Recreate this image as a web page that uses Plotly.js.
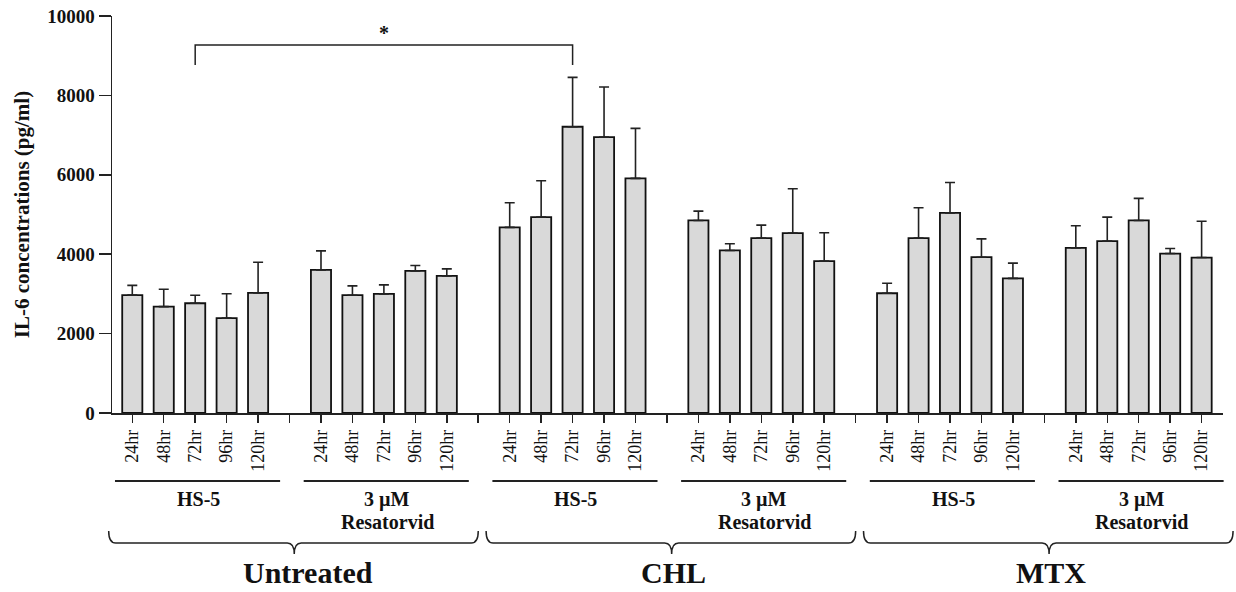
<!DOCTYPE html>
<html>
<head>
<meta charset="utf-8">
<script src="https://cdn.plot.ly/plotly-3.0.1.min.js"></script>
<style>html,body{margin:0;padding:0;background:#fff;}#chart{width:1236px;height:592px;}</style>
</head>
<body>
<div id="chart"></div>
<script>
// ---- data ----
const timePoints = ['24hr', '48hr', '72hr', '96hr', '120hr'];
const treatments = ['Untreated', 'CHL', 'MTX'];
const cellGroups = [['HS-5'], ['3 µM', 'Resatorvid']];

const untreatedHS5 = [2970, 2680, 2765, 2390, 3025];
const untreatedHS5Err = [245, 436, 200, 613, 774];
const untreatedRes = [3605, 2967, 3000, 3580, 3455];
const untreatedResErr = [479, 235, 227, 135, 176];
const chlHS5 = [4675, 4935, 7210, 6950, 5910];
const chlHS5Err = [620, 915, 1245, 1260, 1260];
const chlRes = [4850, 4095, 4405, 4530, 3825];
const chlResErr = [235, 168, 328, 1117, 714];
const mtxHS5 = [3017, 4405, 5042, 3925, 3390];
const mtxHS5Err = [253, 764, 765, 461, 386];
const mtxRes = [4160, 4330, 4850, 4017, 3915];
const mtxResErr = [555, 605, 555, 126, 916];

const yTicks = [0, 2000, 4000, 6000, 8000, 10000];
const yTickLabels = ['0', '2000', '4000', '6000', '8000', '10000'];
const sigLabel = '*';

// ---- build ----
const series = [untreatedHS5, untreatedRes, chlHS5, chlRes, mtxHS5, mtxRes];
const seriesErr = [untreatedHS5Err, untreatedResErr, chlHS5Err, chlResErr, mtxHS5Err, mtxResErr];
const slotsPerGroup = timePoints.length + 1;

const xs = [], ys = [], es = [], em = [];
series.forEach((vals, g) => {
  vals.forEach((v, t) => {
    xs.push(g * slotsPerGroup + t);
    ys.push(v);
    es.push(seriesErr[g][t]);
    em.push(0);
  });
});
const nSlots = series.length * slotsPerGroup - 1;
const tickvals = [], ticktext = [];
for (let i = 0; i < nSlots; i++) {
  tickvals.push(i);
  const t = i % slotsPerGroup;
  ticktext.push(t < timePoints.length ? timePoints[t] : '');
}

const fontFam = '"Liberation Serif", "Times New Roman", serif';
const xr = [-0.645, 34.68];
const plotL = 112, plotW = 1111, plotT = 16, plotH = 397;
const px = i => (i - xr[0]) / (xr[1] - xr[0]);          // index -> paper x
const py = pix => (plotT + plotH - pix) / plotH;          // pixel y -> paper y
const pxd = d => d / plotW;                               // pixel dx -> paper dx

const shapes = [];
const annotations = [];

// significance bracket (72hr HS-5 untreated vs 72hr HS-5 CHL)
const sigA = 0 * slotsPerGroup + 2, sigB = 2 * slotsPerGroup + 2;
shapes.push({type: 'path', xref: 'x', yref: 'y',
  path: `M ${sigA},8765 L ${sigA},9270 L ${sigB},9270 L ${sigB},8765`,
  line: {color: '#222', width: 1.5}});
annotations.push({x: (sigA + sigB) / 2, y: 9560, xref: 'x', yref: 'y', text: sigLabel,
  showarrow: false, yanchor: 'middle',
  font: {family: fontFam, size: 20, color: '#111', weight: 'bold'}});

// group lines + labels
series.forEach((vals, g) => {
  const x0 = g * slotsPerGroup - 0.55, x1 = g * slotsPerGroup + 4.7;
  shapes.push({type: 'line', xref: 'paper', yref: 'paper', x0: px(x0), x1: px(x1),
    y0: py(481), y1: py(481), line: {color: '#222', width: 2.2}});
  cellGroups[g % 2].forEach((line, k) => {
    annotations.push({x: g * slotsPerGroup + 2.1, xref: 'x', y: py(499 + k * 23), yref: 'paper',
      yanchor: 'middle', text: line, showarrow: false, align: 'center',
      font: {family: fontFam, size: 20, color: '#111', weight: 'bold'}});
  });
});

// braces + treatment labels
treatments.forEach((name, c) => {
  const base = c * 2 * slotsPerGroup;
  const a = px(base - 0.75), b = px(base + 11.0), m = px(base + 5.15);
  const r = pxd(7);
  const yT = py(531), yB = py(543), yS = py(554);
  const path = `M ${a},${yT} Q ${a},${yB} ${a + r},${yB} L ${m - r},${yB} Q ${m},${yB} ${m},${yS} ` +
               `Q ${m},${yB} ${m + r},${yB} L ${b - r},${yB} Q ${b},${yB} ${b},${yT}`;
  shapes.push({type: 'path', xref: 'paper', yref: 'paper', path: path, line: {color: '#222', width: 1.5}});
  annotations.push({x: base + 5.2 + (c === 0 ? 0.4 : 0), xref: 'x', y: py(572), yref: 'paper',
    yanchor: 'middle', text: name, showarrow: false,
    font: {family: fontFam, size: 30, color: '#111', weight: 'bold'}});
});

const trace = {
  type: 'bar', x: xs, y: ys, width: 0.64,
  marker: {color: '#d9d9d9', line: {color: '#111', width: 1.8}},
  error_y: {type: 'data', symmetric: false, array: es, arrayminus: em,
    color: '#222', thickness: 1.6, width: 5},
  hoverinfo: 'x+y'
};

const layout = {
  width: 1236, height: 592,
  margin: {l: plotL, r: 1236 - plotL - plotW, t: plotT, b: 592 - plotT - plotH, pad: 0},
  paper_bgcolor: '#fff', plot_bgcolor: '#fff',
  showlegend: false,
  font: {family: fontFam, color: '#111'},
  xaxis: {range: xr, tickmode: 'array', tickvals: tickvals, ticktext: ticktext,
    tickangle: -90, ticks: 'outside', ticklen: 8, tickwidth: 1.5, tickcolor: '#222',
    showline: true, linecolor: '#222', linewidth: 1.5, showgrid: false, zeroline: false,
    tickfont: {family: fontFam, size: 18, color: '#111'}, automargin: false},
  yaxis: {range: [0, 10000], tickmode: 'array', tickvals: yTicks, ticktext: yTickLabels,
    ticks: 'outside', ticklen: 12, tickwidth: 1.5, tickcolor: '#222',
    showline: true, linecolor: '#222', linewidth: 1.5, showgrid: false, zeroline: false,
    tickfont: {family: fontFam, size: 19, color: '#111', weight: 'bold'},
    title: {text: 'IL-6 concentrations (pg/ml)', standoff: 12,
      font: {family: fontFam, size: 21, color: '#111', weight: 'bold'}},
    automargin: false},
  shapes: shapes,
  annotations: annotations,
  bargap: 0
};

Plotly.newPlot('chart', [trace], layout, {displayModeBar: false, staticPlot: true});
</script>
</body>
</html>
